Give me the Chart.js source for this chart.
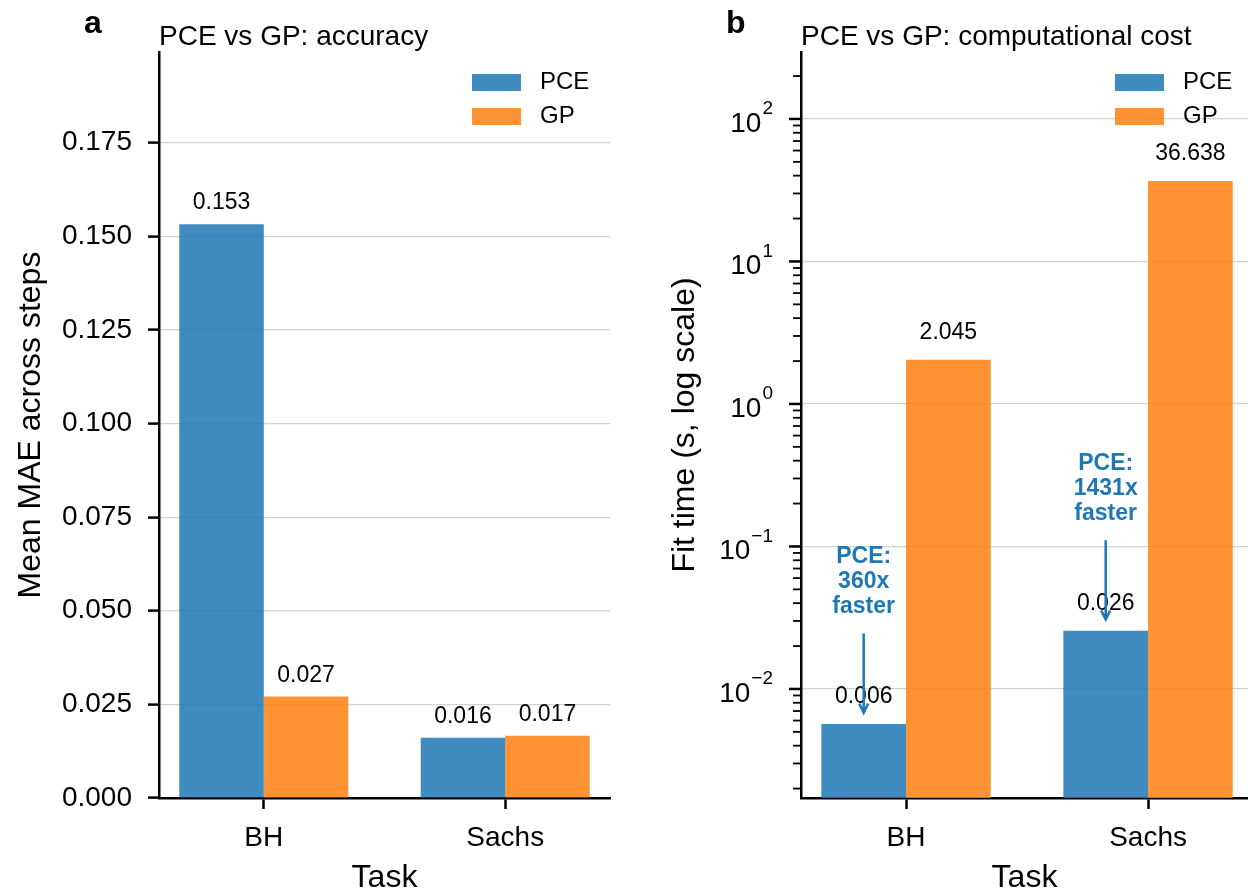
<!DOCTYPE html>
<html>
<head>
<meta charset="utf-8">
<script src="https://cdn.jsdelivr.net/npm/chart.js@4.4.1/dist/chart.umd.min.js"></script>
<style>
  html, body { margin: 0; padding: 0; background: #fff; }
  #wrap { position: relative; width: 1248px; height: 892px; overflow: hidden; }
  .panel { position: absolute; top: 0; height: 892px; }
  #panelA { left: 0; width: 640px; }
  #panelB { left: 640px; width: 608px; }
</style>
</head>
<body>
<div id="wrap">
  <div class="panel" id="panelA"><canvas id="maeChart" width="640" height="892"></canvas></div>
  <div class="panel" id="panelB"><canvas id="timeChart" width="608" height="892"></canvas></div>
</div>
<script>
// data
const tasks = ['BH', 'Sachs'];
const methods = ['PCE', 'GP'];
const pceMae = [0.1532, 0.0161];
const gpMae = [0.0271, 0.0166];
const pceFitTime = [0.00568, 0.0256];
const gpFitTime = [2.045, 36.638];

// tick labels
const maeTicks = [0, 0.025, 0.05, 0.075, 0.1, 0.125, 0.15, 0.175];
const timeTickExps = [-3, -2, -1, 0, 1, 2];
const timeMinorSteps = [2, 3, 4, 5, 6, 7, 8, 9];

const FONT = '"Liberation Sans", Arial, Helvetica, sans-serif';
const blue = 'rgba(31, 119, 180, 0.85)';
const orange = 'rgba(255, 127, 14, 0.85)';
const noteBlue = '#1f77b4';
const gridGray = '#d2d2d2';

Chart.defaults.font.family = FONT;
Chart.defaults.color = '#000';
Chart.defaults.animation = false;

const timeMin = 0.001717, timeMax = 295;
const timeTicks = [];
timeTickExps.forEach(e => {
    const base = Math.pow(10, e);
    [1].concat(timeMinorSteps).forEach(m => {
        const v = m * base;
        if (v >= timeMin && v <= timeMax) timeTicks.push(v);
    });
});
const isDecade = v => Math.abs(Math.log10(v) - Math.round(Math.log10(v))) < 1e-9;

function barData(pce, gp) {
    return {
        datasets: [
            { label: methods[0], data: tasks.map((t, i) => ({ x: i, y: pce[i] })), backgroundColor: blue },
            { label: methods[1], data: tasks.map((t, i) => ({ x: i, y: gp[i] })), backgroundColor: orange }
        ]
    };
}

function taskAxis(min, max) {
    return {
        type: 'linear',
        min: min,
        max: max,
        offset: false,
        afterBuildTicks: s => { s.ticks = tasks.map((t, i) => ({ value: i })); },
        afterFit: s => { s.height = 94; },
        ticks: { callback: v => tasks[v], font: { size: 28 }, padding: 12, maxRotation: 0, autoSkip: false },
        grid: { display: true, drawOnChartArea: false, drawTicks: true, tickLength: 11, tickWidth: 2.5, tickColor: '#000', offset: false },
        border: { display: true, color: '#000', width: 2.5 },
        title: { display: true, text: 'Task', font: { size: 32, lineHeight: 1 }, padding: { top: 0, bottom: -2 } }
    };
}

// titles, panel letters, legend and bar value labels
function decoPlugin(cfg) {
    return {
        id: 'deco' + cfg.letter,
        afterDatasetsDraw(chart) {
            const ctx = chart.ctx;
            ctx.save();
            ctx.fillStyle = '#000';
            ctx.font = '23px ' + FONT;
            ctx.textAlign = 'center';
            ctx.textBaseline = 'alphabetic';
            chart.data.datasets.forEach((ds, i) => {
                chart.getDatasetMeta(i).data.forEach((el, j) => {
                    ctx.fillText(ds.data[j].y.toFixed(3), el.x, el.y - cfg.labelGap);
                });
            });
            ctx.restore();
            if (cfg.notes) cfg.notes(chart);
        },
        afterDraw(chart) {
            const ctx = chart.ctx;
            const area = chart.chartArea;
            ctx.save();
            ctx.fillStyle = '#000';
            ctx.textBaseline = 'alphabetic';
            ctx.textAlign = 'left';
            ctx.font = 'bold 32px ' + FONT;
            ctx.fillText(cfg.letter, cfg.letterX, 33);
            ctx.font = '28px ' + FONT;
            ctx.fillText(cfg.title, area.left, 45);

            // legend
            ctx.font = '24px ' + FONT;
            ctx.textBaseline = 'middle';
            chart.data.datasets.forEach((ds, i) => {
                const y = 74 + i * 34;
                ctx.fillStyle = ds.backgroundColor;
                ctx.fillRect(cfg.legendX, y, 49, 17);
                ctx.fillStyle = '#000';
                ctx.fillText(ds.label, cfg.legendX + 68, y + 8.5);
            });
            ctx.restore();
            if (cfg.after) cfg.after(chart);
        }
    };
}

// "PCE: Nx faster" arrows over the PCE bars
function speedNotes(chart) {
    const ctx = chart.ctx;
    const y = chart.scales.y;
    const meta = chart.getDatasetMeta(0);
    ctx.save();
    ctx.fillStyle = noteBlue;
    ctx.strokeStyle = noteBlue;
    ctx.lineWidth = 2.5;
    ctx.font = 'bold 23px ' + FONT;
    ctx.textAlign = 'center';
    ctx.textBaseline = 'middle';
    tasks.forEach((t, j) => {
        const x = meta.data[j].x;
        const speed = Math.round(gpFitTime[j] / pceFitTime[j]);
        const yMid = y.getPixelForValue(pceFitTime[j] * 10);
        ['PCE:', speed + 'x', 'faster'].forEach((line, k) => {
            ctx.fillText(line, x, yMid + (k - 1) * 25);
        });
        const yStart = yMid + 52;
        const yTip = y.getPixelForValue(pceFitTime[j] * 1.2);
        ctx.beginPath();
        ctx.moveTo(x, yStart);
        ctx.lineTo(x, yTip);
        ctx.moveTo(x - 4.5, yTip - 9);
        ctx.lineTo(x, yTip);
        ctx.lineTo(x + 4.5, yTip - 9);
        ctx.stroke();
    });
    ctx.restore();
}

// log axis tick marks and 10^n labels
function logAxisMarks(chart) {
    const ctx = chart.ctx;
    const y = chart.scales.y;
    const left = chart.chartArea.left;
    ctx.save();
    ctx.strokeStyle = '#000';
    timeTicks.forEach(v => {
        const py = y.getPixelForValue(v);
        const major = isDecade(v);
        ctx.lineWidth = major ? 2.5 : 1.8;
        ctx.beginPath();
        ctx.moveTo(left - (major ? 12 : 8), py);
        ctx.lineTo(left, py);
        ctx.stroke();
        if (!major) return;
        const e = Math.round(Math.log10(v));
        const expText = e < 0 ? '\u2212' + Math.abs(e) : String(e);
        const rightX = 133;
        ctx.fillStyle = '#000';
        ctx.textAlign = 'right';
        ctx.textBaseline = 'middle';
        ctx.font = '19px ' + FONT;
        ctx.fillText(expText, rightX, py - 10);
        const w = ctx.measureText(expText).width;
        ctx.font = '28px ' + FONT;
        ctx.fillText('10', rightX - w - 1, py + 5);
    });
    ctx.restore();
}

new Chart(document.getElementById('maeChart'), {
    type: 'bar',
    data: barData(pceMae, gpMae),
    options: {
        responsive: false,
        layout: { padding: { left: 0, top: 52, right: 30, bottom: 0 } },
        datasets: { bar: { categoryPercentage: 0.7, barPercentage: 1.0 } },
        plugins: { legend: { display: false }, tooltip: { enabled: false } },
        scales: {
            x: taskAxis(-0.434, 1.434),
            y: {
                type: 'linear',
                min: 0,
                max: 0.1992,
                afterBuildTicks: s => { s.ticks = maeTicks.map(v => ({ value: v })); },
                afterFit: s => { s.width = 159; },
                ticks: { callback: v => v.toFixed(3), font: { size: 28 }, padding: 16 },
                grid: { color: gridGray, lineWidth: 1.2, drawTicks: true, tickLength: 11, tickWidth: 2.5, tickColor: '#000' },
                border: { display: true, color: '#000', width: 2.5 },
                title: { display: true, text: 'Mean MAE across steps', font: { size: 32, lineHeight: 1 }, padding: { top: 15, bottom: 0 } }
            }
        }
    },
    plugins: [decoPlugin({ letter: 'a', letterX: 84, title: 'PCE vs GP: accuracy', legendX: 472, labelGap: 15 })]
});

new Chart(document.getElementById('timeChart'), {
    type: 'bar',
    data: barData(pceFitTime, gpFitTime),
    options: {
        responsive: false,
        layout: { padding: { left: 0, top: 52, right: 0, bottom: 0 } },
        datasets: { bar: { categoryPercentage: 0.7, barPercentage: 1.0 } },
        plugins: { legend: { display: false }, tooltip: { enabled: false } },
        scales: {
            x: taskAxis(-0.434, 1.413),
            y: {
                type: 'logarithmic',
                min: timeMin,
                max: timeMax,
                afterBuildTicks: s => { s.ticks = timeTicks.map(v => ({ value: v })); },
                afterFit: s => { s.width = 161; },
                ticks: { display: false },
                grid: {
                    color: c => (c.tick && isDecade(c.tick.value)) ? gridGray : 'rgba(0,0,0,0)',
                    lineWidth: 1.2,
                    drawTicks: false
                },
                border: { display: true, color: '#000', width: 2.5 },
                title: { display: true, text: 'Fit time (s, log scale)', font: { size: 32, lineHeight: 1 }, padding: { top: 29, bottom: 0 } }
            }
        }
    },
    plugins: [decoPlugin({ letter: 'b', letterX: 86, title: 'PCE vs GP: computational cost', legendX: 475, labelGap: 21, notes: speedNotes, after: logAxisMarks })]
});
</script>
</body>
</html>
